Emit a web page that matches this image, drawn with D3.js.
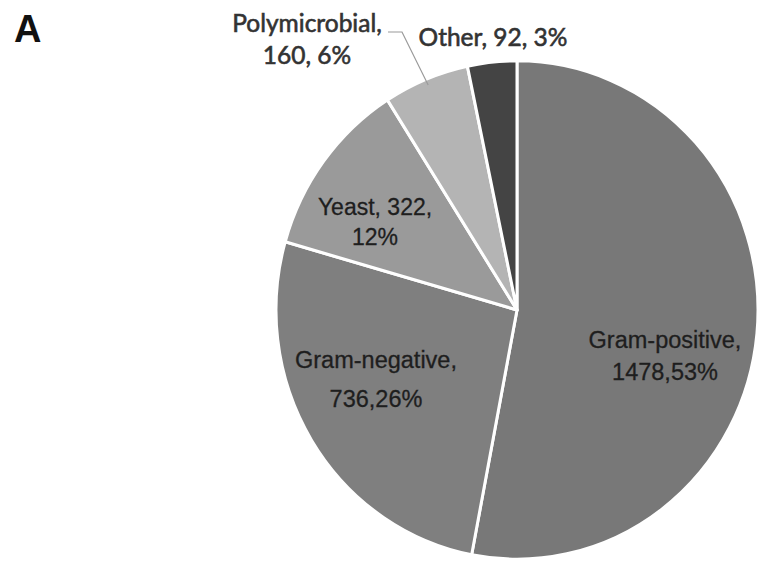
<!DOCTYPE html>
<html>
<head>
<meta charset="utf-8">
<script src="https://cdn.jsdelivr.net/npm/d3@7"></script>
<style>
  html, body { margin: 0; padding: 0; background: #ffffff; }
  svg { display: block; }
</style>
</head>
<body>
<svg id="chart" width="759" height="566"></svg>
<script>
// ---- data ----
const categories = ["Gram-positive", "Gram-negative", "Yeast", "Polymicrobial", "Other"];
const counts = [1478, 736, 322, 160, 92];
const percents = [53, 26, 12, 6, 3];
const labelLines = [
  ["Gram-positive,", "1478,53%"],
  ["Gram-negative,", "736,26%"],
  ["Yeast, 322,", "12%"],
  ["Polymicrobial,", "160, 6%"],
  ["Other, 92, 3%"]
];
const panelLabel = "A";

// ---- style / layout ----
const colors = ["#787878", "#7f7f7f", "#9a9a9a", "#b4b4b4", "#444444"];
const cx = 517, cy = 310, radius = 241, yStretch = 1.034;
const labelLayout = [
  { x: 665, y: 348, dy: 32, font: "'Liberation Sans', Arial, sans-serif", size: 23.5, color: "#1e1e1e", sw: 0.3 },
  { x: 376, y: 368, dy: 39, font: "'Liberation Sans', Arial, sans-serif", size: 23.5, color: "#1e1e1e", sw: 0.3 },
  { x: 375, y: 215, dy: 30, font: "'Liberation Sans', Arial, sans-serif", size: 23, color: "#1e1e1e", sw: 0.3 },
  { x: 307, y: 32, dy: 32, font: "Lato, 'Open Sans', sans-serif", size: 24.5, color: "#333333", sw: 0.6 },
  { x: 493, y: 46, dy: 0, font: "Lato, 'Open Sans', sans-serif", size: 24.5, color: "#333333", sw: 0.6 }
];

const svg = d3.select("#chart");

const data = categories.map((c, i) => ({ name: c, value: counts[i], pct: percents[i], i }));

const pie = d3.pie().value(d => d.value).sort(null);
const arc = d3.arc().innerRadius(0).outerRadius(radius);

const g = svg.append("g")
  .attr("transform", `translate(${cx},${cy}) scale(1,${yStretch})`);

g.selectAll("path.slice")
  .data(pie(data))
  .join("path")
  .attr("class", "slice")
  .attr("d", arc)
  .attr("fill", d => colors[d.data.i])
  .attr("stroke", "#ffffff")
  .attr("stroke-width", 3)
  .attr("stroke-linejoin", "round");

// leader line for Polymicrobial
const polyArc = pie(data)[3];
const outer = d3.arc().innerRadius(radius - 6).outerRadius(radius - 6);
const pc = outer.centroid(polyArc);
const endPt = [cx + pc[0], cy + pc[1] * yStretch];
svg.append("path")
  .attr("d", d3.line()([[388, 32], [402, 32], endPt]))
  .attr("fill", "none")
  .attr("stroke", "#9a9a9a")
  .attr("stroke-width", 1.2);

// labels
labelLines.forEach((lines, i) => {
  const L = labelLayout[i];
  const t = svg.append("text")
    .attr("text-anchor", "middle")
    .attr("font-family", L.font)
    .attr("font-size", L.size)
    .attr("fill", L.color)
    .attr("stroke", L.color)
    .attr("stroke-width", L.sw);
  lines.forEach((ln, k) => {
    t.append("tspan")
      .attr("x", L.x)
      .attr("y", L.y + k * L.dy)
      .text(ln);
  });
});

svg.append("text")
  .attr("x", 14)
  .attr("y", 42)
  .attr("font-family", "'Liberation Sans', Arial, sans-serif")
  .attr("font-weight", "bold")
  .attr("font-size", 38)
  .attr("fill", "#111")
  .text(panelLabel);
</script>
</body>
</html>
